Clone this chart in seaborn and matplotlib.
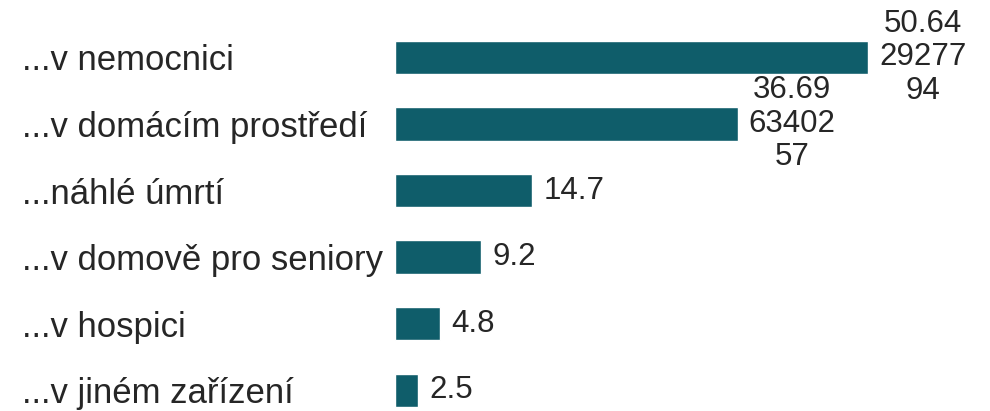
import textwrap
import matplotlib
matplotlib.use('Agg')
import matplotlib.pyplot as plt
import pandas as pd
import seaborn as sns

# ── Data ──────────────────────────────────────
places = ['...v nemocnici', '...v domácím prostředí', '...náhlé úmrtí',
          '...v domově pro seniory', '...v hospici', '...v jiném zařízení']
shares = [50.642927794, 36.696340257, 14.7, 9.2, 4.8, 2.5]

BAR_COLOR = '#0f5d6a'
TEXT_COLOR = '#262626'

sns.set_theme(style='white')
plt.rcParams['font.family'] = ['Liberation Sans', 'DejaVu Sans']

df = pd.DataFrame({'place': places, 'share': shares})

fig = plt.figure(figsize=(9.9, 4.11), dpi=100)
ax = fig.add_axes([395 / 990, 0, 595 / 990, 387 / 411])

sns.barplot(data=df, x='share', y='place', orient='h', color=BAR_COLOR,
            saturation=1, width=0.5, ax=ax)

ax.set_xlim(0, 595 / 9.34)
ax.set_ylim(5.31, -0.5)
sns.despine(ax=ax, left=True, bottom=True)
ax.set_xticks([])
ax.set_xlabel('')
ax.set_ylabel('')

# left-aligned category labels
ax.tick_params(axis='y', length=0, pad=373 * 0.72, labelsize=25,
               labelcolor=TEXT_COLOR)
for lbl in ax.get_yticklabels():
    lbl.set_ha('left')

# value labels, wrapped like the original (5 chars per line)
for i, v in enumerate(shares):
    txt = textwrap.fill(str(v), 5)
    ax.annotate(txt, (v, i), xytext=(8, 0), textcoords='offset points',
                ha='left', va='center', multialignment='center',
                fontsize=22.5, color=TEXT_COLOR, linespacing=1.15)

fig.savefig('out.png', dpi=100)
plt.close(fig)
